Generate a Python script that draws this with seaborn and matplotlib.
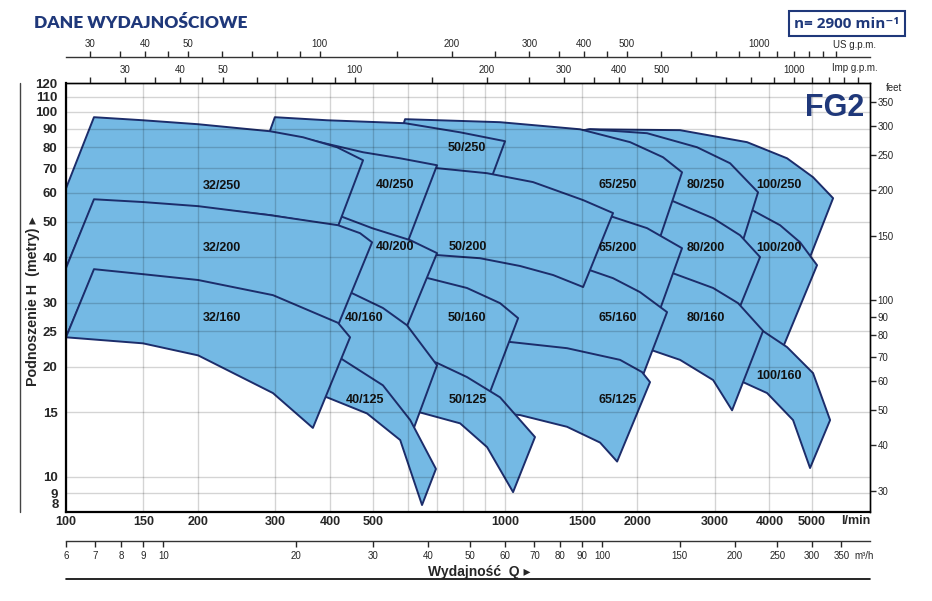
import matplotlib
matplotlib.use('Agg')
import matplotlib.pyplot as plt
import matplotlib.ticker as mticker
import seaborn as sns

# performance fields, points are (Q in l/min, H in m)
# *_top = largest impeller curve left->right, *_bot = smallest impeller curve right->left
p100_250_top = [(1300, 86.8), (1562, 89.6), (2504, 89.1), (3558, 82.6), (4389, 74.6), (5030, 66.2), (5587, 58.0)]
p100_250_bot = [(4951, 40.0), (4698, 43.1), (4231, 48.0), (3653, 52.8), (2781, 53.8), (1828, 57.3), (1300, 59.1)]
p100_200_top = [(2781, 54.8), (3653, 53.8), (4231, 48.9), (4698, 43.9), (5136, 38.0)]
p100_200_bot = [(4298, 22.65), (3870, 24.6), (3430, 26.2), (2781, 28.6)]
p100_160_top = [(3089, 27.2), (3870, 25.06), (4389, 22.65), (5030, 19.22), (5500, 14.29)]
p100_160_bot = [(4951, 10.56), (4529, 14.29), (3952, 16.95), (3484, 18.16), (3089, 19.35)]

p80_250_top = [(1300, 86.8), (1562, 89.6), (2106, 87.4), (2737, 80.0), (3255, 72.3), (3769, 60.2)]
p80_250_bot = [(3484, 44.5), (2978, 50.5), (2414, 56.2), (1828, 60.2), (1300, 62.2)]
p80_200_top = [(1828, 63.0), (2414, 56.9), (2978, 51.1), (3430, 45.9), (3809, 40.0)]
p80_200_bot = [(3430, 29.3), (2978, 32.5), (2414, 35.7), (1828, 38.2)]
p80_160_top = [(1828, 38.7), (2414, 36.1), (2978, 32.9), (3394, 29.9), (3870, 25.1)]
p80_160_bot = [(3289, 15.2), (2978, 18.4), (2504, 20.9), (2162, 22.2), (1828, 23.2)]

p65_250_top = [(592, 95.5), (974, 93.7), (1482, 89.6), (1927, 82.6), (2290, 75.1), (2530, 68.3)]
p65_250_bot = [(2255, 45.35), (2106, 47.4), (1762, 50.8), (1482, 52.8), (1201, 54.8), (877, 59.1), (533, 65.0)]
p65_200_top = [(1201, 55.5), (1482, 53.4), (1762, 51.5), (2106, 48.0), (2530, 42.3)]
p65_200_bot = [(2255, 28.8), (2030, 31.65), (1762, 34.6), (1562, 36.4), (1201, 38.2)]
p65_160_top = [(577, 43.1), (790, 41.8), (1201, 39.2), (1562, 36.8), (1762, 35.0), (2030, 32.05), (2339, 28.25)]
p65_160_bot = [(2062, 19.0), (1828, 20.6), (1384, 22.2), (1027, 23.1), (790, 23.7), (577, 24.4)]
p65_125_top = [(790, 24.0), (1027, 23.4), (1384, 22.5), (1828, 20.9), (2051, 19.35), (2139, 18.16)]
p65_125_bot = [(1800, 11.0), (1646, 12.4), (1384, 13.7), (1082, 14.75), (832, 15.2)]

p50_250_top = [(299, 96.7), (393, 94.85), (592, 93.1), (790, 87.9), (1000, 83.1)]
p50_250_bot = [(934, 66.6), (700, 69.2), (519, 72.8), (341, 77.5), (280, 77.5)]
p50_200_top = [(519, 73.7), (700, 70.1), (910, 67.9), (1158, 64.2), (1506, 57.3), (1762, 52.8)]
p50_200_bot = [(1506, 33.1), (1287, 35.7), (1082, 37.8), (877, 39.7), (700, 40.5), (493, 44.5)]
p50_160_top = [(577, 37.3), (668, 35.0), (819, 32.9), (974, 29.9), (1071, 27.2)]
p50_160_bot = [(924, 17.06), (819, 18.5), (700, 20.2), (577, 21.95)]
p50_125_top = [(577, 22.2), (700, 20.5), (819, 18.75), (974, 16.5), (1170, 12.84)]
p50_125_bot = [(1043, 9.07), (910, 12.05), (790, 14.0), (640, 15.0), (592, 16.2)]

p40_250_top = [(277, 83.6), (347, 84.7), (406, 81.0), (475, 77.5), (577, 74.6), (700, 71.4)]
p40_250_bot = [(601, 44.2), (498, 47.1), (416, 51.1), (341, 54.45), (291.5, 56.2)]
p40_200_top = [(324, 55.5), (416, 52.1), (498, 48.0), (608, 44.5), (700, 41.0)]
p40_200_bot = [(595, 25.5), (527, 28.4), (448, 31.25), (341, 32.9)]
p40_160_top = [(341, 33.5), (448, 31.85), (527, 29.0), (598, 26.0), (700, 20.2)]
p40_160_bot = [(620, 13.6), (527, 17.5), (425, 20.6), (341, 21.5)]
p40_125_top = [(360, 23.7), (425, 21.0), (527, 17.8), (608, 14.3), (696, 10.5)]
p40_125_bot = [(647, 8.36), (577, 12.6), (485, 14.9), (393, 16.5), (341, 17.06)]

p32_250_top = [(115.8, 96.7), (149.7, 94.85), (200, 92.5), (291.5, 88.5), (346.6, 85.2), (414.3, 80.0), (474.9, 73.7)]
p32_250_bot = [(416.5, 48.6), (291.5, 52.1), (200, 54.8), (149.7, 56.2), (115.8, 56.9), (100, 37.3), (78.6, 29.5)]
p32_200_top = [(115.8, 57.6), (149.7, 56.6), (200, 55.15), (291.5, 52.1), (416.5, 48.9), (467.5, 46.5), (497.9, 43.9)]
p32_200_bot = [(416.5, 26.0), (296, 31.1), (200, 34.1), (149.7, 35.45), (115.8, 36.6), (100, 24.1), (78.6, 18.3)]
p32_160_top = [(115.8, 37.05), (149.7, 35.9), (200, 34.6), (296, 31.45), (416.5, 26.4), (443.6, 24.1)]
p32_160_bot = [(365, 13.6), (296, 16.95), (200, 21.5), (149.7, 23.2), (100, 24.1)]

# right-hand families first, so the left ones overlap them
fields = [
    (p100_250_top, p100_250_bot), (p100_200_top, p100_200_bot), (p100_160_top, p100_160_bot),
    (p80_250_top, p80_250_bot), (p80_200_top, p80_200_bot), (p80_160_top, p80_160_bot),
    (p65_250_top, p65_250_bot), (p65_200_top, p65_200_bot), (p65_160_top, p65_160_bot), (p65_125_top, p65_125_bot),
    (p50_250_top, p50_250_bot), (p50_200_top, p50_200_bot), (p50_160_top, p50_160_bot), (p50_125_top, p50_125_bot),
    (p40_250_top, p40_250_bot), (p40_200_top, p40_200_bot), (p40_160_top, p40_160_bot), (p40_125_top, p40_125_bot),
    (p32_250_top, p32_250_bot), (p32_200_top, p32_200_bot), (p32_160_top, p32_160_bot),
]

label_names = ['32/250', '32/200', '32/160', '40/250', '40/200', '40/160', '40/125',
               '50/250', '50/200', '50/160', '50/125', '65/250', '65/200', '65/160', '65/125',
               '80/250', '80/200', '80/160', '100/250', '100/200', '100/160']
label_q = [227, 227, 227, 562, 562, 477, 479, 819, 821, 819, 821,
           1809, 1809, 1809, 1809, 2870, 2870, 2870, 4209, 4209, 4209]
label_h = [62.6, 42.3, 27.2, 63.0, 42.6, 27.2, 16.2, 79.5, 42.6, 27.2, 16.2,
           63.0, 42.3, 27.2, 16.2, 63.0, 42.3, 27.2, 63.0, 42.3, 18.9]

q_labeled = [100, 150, 200, 300, 400, 500, 1000, 1500, 2000, 3000, 4000, 5000]
q_grid_extra = [600, 700, 800, 900]
h_ticks = [8, 9, 10, 15, 20, 25, 30, 40, 50, 60, 70, 80, 90, 100, 110, 120]
us_ticks = [30, 35, 40, 45, 50, 60, 70, 80, 90, 100, 150, 200, 250, 300, 350, 400, 450, 500,
            600, 700, 800, 900, 1000, 1100, 1200, 1300, 1400, 1500]
imp_ticks = [25, 30, 35, 40, 45, 50, 60, 70, 80, 90, 100, 150, 200, 250, 300, 350, 400, 450, 500,
             600, 700, 800, 900, 1000, 1100, 1200, 1300, 1400]
gpm_labeled = [30, 40, 50, 100, 200, 300, 400, 500, 1000]
m3h_ticks = [6, 7, 8, 9, 10, 20, 30, 40, 50, 60, 70, 80, 90, 100, 150, 200, 250, 300, 350]
feet_ticks = [30, 40, 50, 60, 70, 80, 90, 100, 150, 200, 250, 300, 350]

FILL = '#74b9e4'
EDGE = '#1c2d6b'
NAVY = '#1f387a'
NARROW = ['Liberation Sans Narrow', 'Liberation Sans', 'DejaVu Sans']


def lmin_to_us(q):
    return q / 3.785411784

def us_to_lmin(g):
    return g * 3.785411784

def lmin_to_imp(q):
    return q / 4.54609

def imp_to_lmin(g):
    return g * 4.54609

def lmin_to_m3h(q):
    return q * 0.06

def m3h_to_lmin(m):
    return m / 0.06

def m_to_ft(h):
    return h * 3.28084

def ft_to_m(f):
    return f / 3.28084


sns.set_theme(style='white')
plt.rcParams['font.family'] = ['Liberation Sans', 'DejaVu Sans']

fig = plt.figure(figsize=(9.32, 6.01), dpi=100)
ax = fig.add_axes([66 / 932, 89 / 601, 804 / 932, 429 / 601])
ax.set_xscale('log')
ax.set_yscale('log')
ax.set_xlim(100, 6780)
ax.set_ylim(8, 120)

for top, bot in fields:
    pts = top + bot
    ax.fill([p[0] for p in pts], [p[1] for p in pts], facecolor=FILL, edgecolor=EDGE,
            linewidth=1.4, joinstyle='round', zorder=1)

for name, q, h in zip(label_names, label_q, label_h):
    ax.text(q, h, name, ha='center', va='center', fontsize=9, fontweight='bold',
            family=NARROW, color='#111111', zorder=4)

# main axes ticks and grid; the lowest label "8" is placed by hand a bit higher
ax.xaxis.set_major_locator(mticker.FixedLocator(q_labeled))
ax.xaxis.set_major_formatter(mticker.FixedFormatter([str(v) for v in q_labeled]))
ax.xaxis.set_minor_locator(mticker.FixedLocator(q_grid_extra))
ax.xaxis.set_minor_formatter(mticker.NullFormatter())
ax.yaxis.set_major_locator(mticker.FixedLocator(h_ticks))
ax.yaxis.set_major_formatter(mticker.FixedFormatter(['' if v == 8 else str(v) for v in h_ticks]))
ax.yaxis.set_minor_locator(mticker.NullLocator())
ax.tick_params(axis='both', which='both', length=0)
ax.tick_params(axis='x', pad=3)
ax.tick_params(axis='y', pad=6)
for lab in ax.get_xticklabels():
    lab.set_fontweight('bold'); lab.set_fontsize(9); lab.set_family(NARROW)
for lab in ax.get_yticklabels():
    lab.set_fontweight('bold'); lab.set_fontsize(9.5)
ax.text(-0.0085, 0.016, '8', transform=ax.transAxes, ha='right', va='center',
        fontsize=9.5, fontweight='bold')
ax.set_axisbelow(False)
ax.grid(True, which='both', color='black', alpha=0.17, linewidth=1.0)
for side in ['left', 'bottom']:
    ax.spines[side].set_linewidth(1.6)
for side in ['top', 'right']:
    ax.spines[side].set_linewidth(1.0)
for sp in ax.spines.values():
    sp.set_color('black')
    sp.set_zorder(5)


def gpm_labels(ticks):
    return [str(t) if t in gpm_labeled else '' for t in ticks]


ax_imp = ax.secondary_xaxis('top', functions=(lmin_to_imp, imp_to_lmin))
ax_imp.set_ticks(imp_ticks, labels=gpm_labels(imp_ticks))
ax_imp.xaxis.set_minor_locator(mticker.NullLocator())
ax_imp.tick_params(axis='x', which='major', direction='out', length=4, width=1, labelsize=7, pad=1.5)
ax_imp.tick_params(axis='x', which='minor', length=0, labeltop=False, labelbottom=False)

ax_us = ax.secondary_xaxis(1.0606, functions=(lmin_to_us, us_to_lmin))
ax_us.set_ticks(us_ticks, labels=gpm_labels(us_ticks))
ax_us.xaxis.set_minor_locator(mticker.NullLocator())
ax_us.tick_params(axis='x', which='major', direction='out', length=4, width=1, labelsize=7, pad=1.5)
ax_us.tick_params(axis='x', which='minor', length=0, labeltop=False, labelbottom=False)

ax_m3 = ax.secondary_xaxis(-0.0676, functions=(lmin_to_m3h, m3h_to_lmin))
ax_m3.set_ticks(m3h_ticks, labels=[str(t) for t in m3h_ticks])
ax_m3.xaxis.set_minor_locator(mticker.NullLocator())
ax_m3.tick_params(axis='x', which='major', direction='out', length=4, width=1, labelsize=7, pad=3)
ax_m3.tick_params(axis='x', which='minor', length=0, labeltop=False, labelbottom=False)

ax_ft = ax.secondary_yaxis('right', functions=(m_to_ft, ft_to_m))
ax_ft.set_ticks(feet_ticks, labels=[str(t) for t in feet_ticks])
ax_ft.yaxis.set_minor_locator(mticker.NullLocator())
ax_ft.tick_params(axis='y', which='major', direction='out', length=4, width=1, labelsize=7, pad=1.5)
ax_ft.tick_params(axis='y', which='minor', length=0, labelleft=False, labelright=False)

for sec in (ax_imp, ax_us, ax_m3, ax_ft):
    for sp in sec.spines.values():
        sp.set_linewidth(1.0)
        sp.set_color('#333333')

# unit captions and frame texts
ax.text(0.981, 1.0886, 'US g.p.m.', transform=ax.transAxes, ha='center', va='center', fontsize=7)
ax.text(0.981, 1.035, 'Imp g.p.m.', transform=ax.transAxes, ha='center', va='center', fontsize=7)
ax.text(1.02, 0.988, 'feet', transform=ax.transAxes, ha='left', va='center', fontsize=7)
ax.text(0.9826, -0.021, 'l/min', transform=ax.transAxes, ha='center', va='center',
        fontsize=9, fontweight='bold', family=NARROW)
ax.text(0.9925, -0.1026, 'm³/h', transform=ax.transAxes, ha='center', va='center', fontsize=7)
ax.text(0.514, -0.14, 'Wydajność  Q ▸', transform=ax.transAxes, ha='center', va='center',
        fontsize=10, fontweight='bold', family=['Liberation Sans', 'DejaVu Sans'])
ax.text(-0.041, 0.492, 'Podnoszenie H  (metry) ▸', transform=ax.transAxes, rotation=90,
        ha='center', va='center', fontsize=10.3, fontweight='bold',
        family=['Liberation Sans', 'DejaVu Sans'])
ax.plot([0, 1], [-0.156, -0.156], transform=ax.transAxes, color='black', lw=1.2, clip_on=False)
ax.plot([-0.0572, -0.0572], [0, 1], transform=ax.transAxes, color='#444444', lw=1.0, clip_on=False)

ax.text(0.9565, 0.9417, 'FG2', transform=ax.transAxes, ha='center', va='center', fontsize=22,
        fontweight='bold', color=NAVY, family=NARROW, zorder=6)

fig.text(34 / 932, 1 - 23 / 601, 'DANE WYDAJNOŚCIOWE', ha='left', va='center', fontsize=12.5,
         fontweight='heavy', color=NAVY, family=['Lato', 'DejaVu Sans'])
fig.text(847 / 932, 1 - 23.5 / 601, 'n= 2900 min⁻¹', ha='center', va='center', fontsize=11,
         fontweight='bold', color=NAVY, family=['Open Sans', 'DejaVu Sans'],
         bbox=dict(boxstyle='square,pad=0.35', facecolor='white', edgecolor=NAVY, linewidth=1.5))

fig.savefig('out.png', dpi=100)
